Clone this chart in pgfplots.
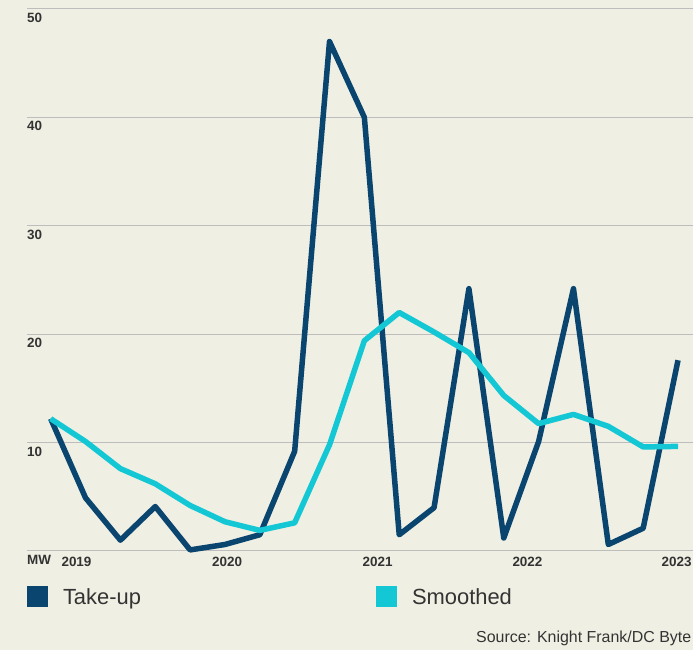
\documentclass[border=0pt]{standalone}
\usepackage{pgfplots}
\pgfplotsset{compat=1.18}
\usepackage{fontspec}
\setmainfont{Liberation Sans}
\definecolor{bg}{HTML}{F0EFE3}
\definecolor{takeup}{HTML}{0A4570}
\definecolor{smoothc}{HTML}{13C8D4}
\definecolor{gridc}{HTML}{BDBDBD}
\definecolor{txt}{HTML}{333333}
\begin{document}
\begin{tikzpicture}[x=1bp,y=1bp]
\fill[bg] (0,0) rectangle (693,650);
\useasboundingbox (0,0) rectangle (693,650);
\begin{axis}[
  at={(27bp,99bp)}, anchor=south west,
  scale only axis, width=666bp, height=542bp,
  xmin=-0.68, xmax=18.43, ymin=0, ymax=50,
  axis line style={draw=none},
  major tick length=0pt,
  ytick={0,10,20,30,40,50},
  yticklabels={MW,10,20,30,40,50},
  xtick={0.74,5.06,9.38,13.68,17.96},
  xticklabels={2019,2020,2021,2022,2023},
  ymajorgrids,
  grid style={gridc, line width=1bp},
  tick label style={font=\fontsize{13.5}{13.5}\selectfont\bfseries, text=txt},
  yticklabel style={anchor=north west, inner sep=0pt, yshift=-4bp},
  xticklabel style={anchor=north, inner sep=0pt, yshift=-6bp},
  clip=false,
  legend columns=2,
  legend cell align=left,
  legend image code/.code={\fill[#1,draw=none] (0bp,-10.5bp) rectangle (21bp,10.5bp);},
  legend style={at={(0,0)}, anchor=north west, yshift=-35bp,
    draw=none, fill=none, inner sep=0pt, outer sep=0pt,
    font=\fontsize{22}{22}\selectfont, text=txt,
    /tikz/every odd column/.append style={column sep=15bp},
    nodes={inner sep=0pt, text depth=0pt, text width=313bp}},
]
\addplot[takeup, line width=5.5bp, line join=round] coordinates {
(0,12.2) (1,4.9) (2,1.0) (3,4.1) (4,0.1) (5,0.6) (6,1.5) (7,9.2)
(8,47.0) (9,40.0) (10,1.5) (11,4.0) (12,24.2) (13,1.2) (14,10.1)
(15,24.2) (16,0.6) (17,2.1) (18,17.6)};
\addlegendentry{Take-up}
\addplot[smoothc, line width=5.5bp, line join=round] coordinates {
(0,12.2) (1,10.1) (2,7.6) (3,6.2) (4,4.2) (5,2.7) (6,1.9) (7,2.6)
(8,9.8) (9,19.4) (10,22.0) (11,20.2) (12,18.3) (13,14.35) (14,11.75)
(15,12.6) (16,11.5) (17,9.6) (18,9.65)};
\addlegendentry{Smoothed}
\end{axis}
\node[anchor=base west, inner sep=0pt, font=\fontsize{16}{16}\selectfont, text=txt] at (476,7) {Source: Knight Frank/DC Byte};
\end{tikzpicture}
\end{document}
